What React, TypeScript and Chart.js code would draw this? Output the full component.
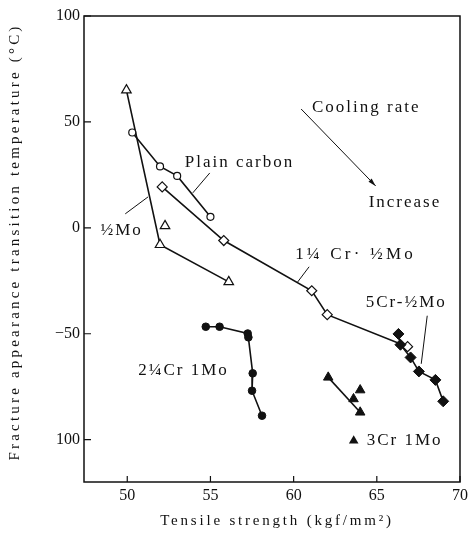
import React, { useEffect, useRef } from "react";
import { Chart, registerables } from "chart.js";

Chart.register(...registerables);

// ---- axis ticks ----
const xTickValues = [50, 55, 60, 65, 70];
const yTickValues = [100, 50, 0, -50, -100];
const yTickLabels = ["100", "50", "0", "−50", "100"];

// ---- series (x: tensile strength kgf/mm², y: FATT °C) ----
const halfMo = [
  { x: 49.95, y: 65 },
  { x: 51.97, y: -8 },
  { x: 56.1, y: -25.5 },
];
const halfMoExtra = [{ x: 52.27, y: 0.9 }];
const plainCarbon = [
  { x: 50.3, y: 45 },
  { x: 51.97, y: 29 },
  { x: 53.0, y: 24.5 },
  { x: 55.0, y: 5.2 },
];
const cr125Mo05 = [
  { x: 52.1, y: 19.3 },
  { x: 55.8, y: -6 },
  { x: 61.09, y: -29.7 },
  { x: 62.02, y: -41 },
  { x: 66.85, y: -56.1 },
];
const cr5Mo05 = [
  { x: 66.3, y: -50.1 },
  { x: 66.42, y: -55.2 },
  { x: 67.03, y: -61.2 },
  { x: 67.53, y: -67.8 },
  { x: 68.52, y: -71.8 },
  { x: 68.99, y: -81.9 },
];
const cr225Mo1 = [
  { x: 54.72, y: -46.7 },
  { x: 55.55, y: -46.7 },
  { x: 57.24, y: -49.9 },
  { x: 57.28, y: -51.7 },
  { x: 57.54, y: -68.7 },
  { x: 57.5, y: -76.9 },
  { x: 58.1, y: -88.7 },
];
const cr3Mo1 = [
  { x: 62.08, y: -70.6 },
  { x: 64.0, y: -87.1 },
];
const cr3Mo1Extra = [
  { x: 64.0, y: -76.6 },
  { x: 63.6, y: -80.8 },
];

// ---- annotations (data coordinates) ----
const annotationTexts = [
  { text: "Cooling rate", x: 61.1, y: 56.6, spacing: 2 },
  { text: "Increase", x: 64.51, y: 11.8, spacing: 2 },
  { text: "Plain carbon", x: 53.46, y: 30.7, spacing: 2 },
  { text: "½Mo", x: 48.39, y: -1.4, spacing: 2 },
  { text: "1¼ Cr· ½Mo", x: 60.09, y: -12.8, spacing: 3.2 },
  { text: "5Cr-½Mo", x: 64.33, y: -35.4, spacing: 2 },
  { text: "2¼Cr 1Mo", x: 50.66, y: -67.5, spacing: 2 },
  { text: "3Cr 1Mo", x: 64.39, y: -100.5, spacing: 2 },
];
const legendTriangle = { x: 63.61, y: -100.5 };
const leaderLines = [
  [{ x: 54.96, y: 25.9 }, { x: 53.94, y: 16.5 }],
  [{ x: 49.88, y: 6.6 }, { x: 51.25, y: 14.6 }],
  [{ x: 60.93, y: -18.4 }, { x: 60.21, y: -25.9 }],
  [{ x: 68.03, y: -41.5 }, { x: 67.67, y: -64.2 }],
];
const coolingArrow = [{ x: 60.45, y: 56.1 }, { x: 64.93, y: 19.8 }];

const SERIF = "'Liberation Serif', 'DejaVu Serif', serif";

const overlayPlugin = {
  id: "overlay",
  afterDraw(chart: any) {
    const { ctx, chartArea, scales } = chart;
    const xs = scales.x;
    const ys = scales.y;
    const px = (v: number) => xs.getPixelForValue(v);
    const py = (v: number) => ys.getPixelForValue(v);
    ctx.save();
    // frame
    ctx.strokeStyle = "#111";
    ctx.lineWidth = 1.5;
    ctx.strokeRect(chartArea.left, chartArea.top, chartArea.right - chartArea.left, chartArea.bottom - chartArea.top);
    // inward ticks
    ctx.lineWidth = 1.2;
    ctx.beginPath();
    xTickValues.forEach((v) => {
      const x = px(v);
      ctx.moveTo(x, chartArea.bottom);
      ctx.lineTo(x, chartArea.bottom - 6);
    });
    yTickValues.forEach((v) => {
      const y = py(v);
      ctx.moveTo(chartArea.left, y);
      ctx.lineTo(chartArea.left + 7, y);
    });
    ctx.stroke();
    // leader lines
    ctx.lineWidth = 1;
    ctx.beginPath();
    leaderLines.forEach(([a, b]) => {
      ctx.moveTo(px(a.x), py(a.y));
      ctx.lineTo(px(b.x), py(b.y));
    });
    ctx.stroke();
    // cooling arrow
    const ax0 = px(coolingArrow[0].x), ay0 = py(coolingArrow[0].y);
    const ax1 = px(coolingArrow[1].x), ay1 = py(coolingArrow[1].y);
    ctx.beginPath();
    ctx.moveTo(ax0, ay0);
    ctx.lineTo(ax1, ay1);
    ctx.stroke();
    const ang = Math.atan2(ay1 - ay0, ax1 - ax0);
    ctx.fillStyle = "#111";
    ctx.beginPath();
    ctx.moveTo(ax1, ay1);
    ctx.lineTo(ax1 - 8 * Math.cos(ang) + 2.2 * Math.sin(ang), ay1 - 8 * Math.sin(ang) - 2.2 * Math.cos(ang));
    ctx.lineTo(ax1 - 8 * Math.cos(ang) - 2.2 * Math.sin(ang), ay1 - 8 * Math.sin(ang) + 2.2 * Math.cos(ang));
    ctx.closePath();
    ctx.fill();
    // legend triangle for 3Cr 1Mo
    const tx = px(legendTriangle.x), ty = py(legendTriangle.y);
    ctx.beginPath();
    ctx.moveTo(tx, ty - 5.5);
    ctx.lineTo(tx + 4.8, ty + 2.8);
    ctx.lineTo(tx - 4.8, ty + 2.8);
    ctx.closePath();
    ctx.fill();
    // annotation texts
    ctx.fillStyle = "#111";
    ctx.font = `17px ${SERIF}`;
    ctx.textAlign = "left";
    ctx.textBaseline = "middle";
    annotationTexts.forEach((t) => {
      (ctx as any).letterSpacing = `${t.spacing}px`;
      ctx.fillText(t.text, px(t.x), py(t.y));
    });
    // axis titles
    ctx.font = `15px ${SERIF}`;
    (ctx as any).letterSpacing = "2.8px";
    ctx.textAlign = "center";
    ctx.fillText("Tensile strength (kgf/mm²)", 277, 521);
    (ctx as any).letterSpacing = "3.2px";
    ctx.translate(15, 242);
    ctx.rotate(-Math.PI / 2);
    ctx.fillText("Fracture appearance transition temperature (°C)", 0, 0);
    ctx.restore();
  },
};

export default function App() {
  const ref = useRef<HTMLCanvasElement | null>(null);
  useEffect(() => {
    if (!ref.current) return;
    const openStyle = { pointBackgroundColor: "#fff", pointBorderColor: "#111", pointBorderWidth: 1.2 };
    const filledStyle = { pointBackgroundColor: "#111", pointBorderColor: "#111", pointBorderWidth: 1 };
    const lineStyle = { showLine: true, borderColor: "#111", borderWidth: 1.6 };
    const chart = new Chart(ref.current, {
      type: "scatter",
      data: {
        datasets: [
          { label: "5Cr-½Mo", data: cr5Mo05, ...lineStyle, ...filledStyle, pointStyle: "rectRot", pointRadius: 5.5 },
          { label: "1¼Cr-½Mo", data: cr125Mo05, ...lineStyle, ...openStyle, pointStyle: "rectRot", pointRadius: 5 },
          { label: "Plain carbon", data: plainCarbon, ...lineStyle, ...openStyle, pointStyle: "circle", pointRadius: 3.5 },
          { label: "½Mo", data: halfMo, ...lineStyle, ...openStyle, pointStyle: "triangle", pointRadius: 5.5 },
          { label: "½Mo extra", data: halfMoExtra, showLine: false, ...openStyle, pointStyle: "triangle", pointRadius: 5.5 },
          { label: "2¼Cr 1Mo", data: cr225Mo1, ...lineStyle, ...filledStyle, pointStyle: "circle", pointRadius: 3.8 },
          { label: "3Cr 1Mo", data: cr3Mo1, ...lineStyle, ...filledStyle, pointStyle: "triangle", pointRadius: 5.5 },
          { label: "3Cr 1Mo extra", data: cr3Mo1Extra, showLine: false, ...filledStyle, pointStyle: "triangle", pointRadius: 5.5 },
        ] as any,
      },
      options: {
        animation: false,
        responsive: true,
        maintainAspectRatio: false,
        layout: { padding: { top: 16, right: 10, left: 0, bottom: 0 } },
        plugins: { legend: { display: false }, tooltip: { enabled: false } },
        scales: {
          x: {
            type: "linear",
            min: 47.4,
            max: 70,
            grid: { display: false, drawTicks: false },
            border: { display: false },
            afterBuildTicks: (s: any) => {
              s.ticks = xTickValues.map((v) => ({ value: v }));
            },
            afterFit: (s: any) => {
              s.height = 59;
            },
            ticks: {
              autoSkip: false,
              maxRotation: 0,
              padding: 4,
              color: "#111",
              font: { family: SERIF, size: 16 },
              callback: (v: any) => String(v),
            },
          },
          y: {
            type: "linear",
            min: -120,
            max: 100,
            grid: { display: false, drawTicks: false },
            border: { display: false },
            afterBuildTicks: (s: any) => {
              s.ticks = yTickValues.map((v) => ({ value: v }));
            },
            afterFit: (s: any) => {
              s.width = 84;
            },
            ticks: {
              autoSkip: false,
              padding: 4,
              color: "#111",
              font: { family: SERIF, size: 16 },
              callback: (v: any) => {
                const i = yTickValues.indexOf(Number(v));
                return i >= 0 ? yTickLabels[i] : "";
              },
            },
          },
        },
      } as any,
      plugins: [overlayPlugin],
    });
    return () => chart.destroy();
  }, []);
  return (
    <div style={{ position: "fixed", left: 0, top: 0, width: 472, height: 541, background: "#fff" }}>
      <canvas ref={ref} />
    </div>
  );
}
